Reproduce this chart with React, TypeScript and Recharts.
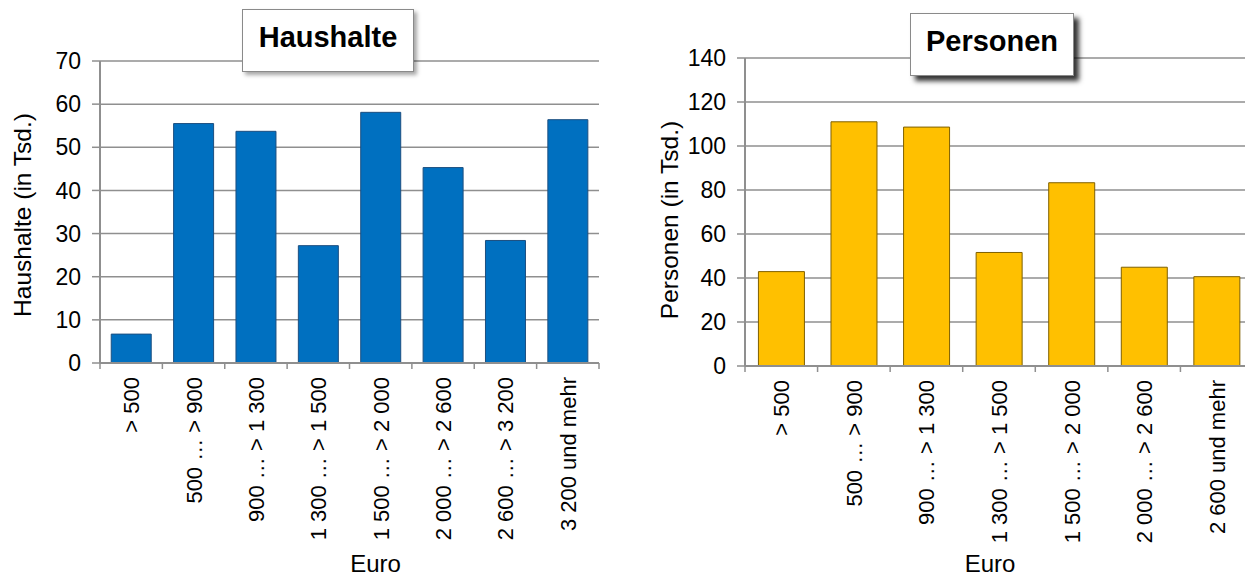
import React from 'react'
import { BarChart, Bar, XAxis, YAxis, CartesianGrid } from 'recharts'

const HH_CATS = ['> 500', '500 … > 900', '900 … > 1 300', '1 300 … > 1 500', '1 500 … > 2 000', '2 000 … > 2 600', '2 600 … > 3 200', '3 200 und mehr']
const HH_VALUES = [6.7, 55.5, 53.7, 27.2, 58.1, 45.3, 28.4, 56.4]
const HH_TICKS = [0, 10, 20, 30, 40, 50, 60, 70]

const P_CATS = ['> 500', '500 … > 900', '900 … > 1 300', '1 300 … > 1 500', '1 500 … > 2 000', '2 000 … > 2 600', '2 600 und mehr']
const P_VALUES = [42.9, 111.0, 108.6, 51.6, 83.3, 44.9, 40.6]
const P_TICKS = [0, 20, 40, 60, 80, 100, 120, 140]

const hhData = HH_CATS.map((c, i) => ({ cat: c, v: HH_VALUES[i] }))
const pData = P_CATS.map((c, i) => ({ cat: c, v: P_VALUES[i] }))

const FONT = '"Liberation Sans", Arial, sans-serif'
const GRID = '#8f8f8f'

// category label rotated, plus Excel-style tick marks at the band edges
function CatTick(props: any) {
  const { x, y, payload, index, band, count } = props
  return (
    <g>
      <line x1={x - band / 2} x2={x - band / 2} y1={y - 6} y2={y} stroke={GRID} strokeWidth={1.5} />
      {index === count - 1 && <line x1={x + band / 2} x2={x + band / 2} y1={y - 6} y2={y} stroke={GRID} strokeWidth={1.5} />}
      <text transform={`translate(${x + 8},${y + 8}) rotate(-90)`} textAnchor="end" fontSize={22} fill="#000" fontFamily={FONT}>
        {payload.value}
      </text>
    </g>
  )
}

function YTitle({ viewBox, value, cx, dy }: any) {
  const vb = viewBox || { x: 0, y: 0, width: 0, height: 0 }
  const x = vb.x + cx
  const y = vb.y + vb.height / 2 + dy
  return (
    <text x={x} y={y} transform={`rotate(-90 ${x} ${y})`} textAnchor="middle" dominantBaseline="central" fontSize={24.5} fill="#000" fontFamily={FONT}>
      {value}
    </text>
  )
}

function XTitle({ viewBox, dx }: any) {
  const vb = viewBox || { x: 0, y: 0, width: 0, height: 0 }
  return (
    <text x={vb.x + vb.width / 2 + dx} y={vb.y + vb.height - 4} textAnchor="middle" fontSize={24} fill="#000" fontFamily={FONT}>
      Euro
    </text>
  )
}

function TitleBox({ left, top, width, height, shadow, children }: any) {
  return (
    <div style={{
      position: 'absolute', left, top, width, height, boxSizing: 'border-box',
      background: '#fff', border: '1px solid #8a8a8a', boxShadow: shadow,
      display: 'flex', alignItems: 'center', justifyContent: 'center',
      fontFamily: FONT, fontWeight: 700, fontSize: 29, color: '#000', paddingBottom: 6,
    }}>
      {children}
    </div>
  )
}

const tickStyle = { fill: '#000', fontSize: 23, fontFamily: FONT }

export default function App() {
  return (
    <div style={{ position: 'absolute', left: 0, top: 0, width: 1245, height: 576, overflow: 'hidden', background: '#fff' }}>

      {/* Haushalte */}
      <div style={{ position: 'absolute', left: 0, top: 0 }}>
        <BarChart width={630} height={576} data={hhData} margin={{ top: 61, right: 31, bottom: 0, left: 0 }} barCategoryGap="18%">
          <CartesianGrid vertical={false} stroke={GRID} strokeWidth={1.5} />
          <XAxis dataKey="cat" height={213} interval={0} tickLine={false} tickSize={6} tickMargin={0}
            axisLine={{ stroke: GRID, strokeWidth: 2 }}
            tick={<CatTick band={499 / HH_CATS.length} count={HH_CATS.length} />}
            label={(p: any) => <XTitle {...p} dx={26} />} />
          <YAxis width={100} domain={[0, 70]} ticks={HH_TICKS} interval={0} tick={tickStyle}
            tickSize={8} tickMargin={11} tickLine={{ stroke: GRID, strokeWidth: 1.5 }}
            axisLine={{ stroke: GRID, strokeWidth: 2 }}
            label={(p: any) => <YTitle {...p} value="Haushalte (in Tsd.)" cx={22} dy={3} />} />
          <Bar dataKey="v" fill="#0070C0" stroke="#1c4f80" strokeWidth={1} isAnimationActive={false} />
        </BarChart>
      </div>

      {/* Personen */}
      <div style={{ position: 'absolute', left: 630, top: 0 }}>
        <BarChart width={630} height={576} data={pData} margin={{ top: 58, right: 7, bottom: 0, left: 0 }} barCategoryGap="18.5%">
          <CartesianGrid vertical={false} stroke={GRID} strokeWidth={1.5} />
          <XAxis dataKey="cat" height={210} interval={0} tickLine={false} tickSize={6} tickMargin={0}
            axisLine={{ stroke: GRID, strokeWidth: 2 }}
            tick={<CatTick band={508 / P_CATS.length} count={P_CATS.length} />}
            label={(p: any) => <XTitle {...p} dx={-9} />} />
          <YAxis width={115} domain={[0, 140]} ticks={P_TICKS} interval={0} tick={tickStyle}
            tickSize={8} tickMargin={11} tickLine={{ stroke: GRID, strokeWidth: 1.5 }}
            axisLine={{ stroke: GRID, strokeWidth: 2 }}
            label={(p: any) => <YTitle {...p} value="Personen (in Tsd.)" cx={39} dy={8} />} />
          <Bar dataKey="v" fill="#FFC000" stroke="#7f6000" strokeWidth={1} isAnimationActive={false} />
        </BarChart>
      </div>

      <TitleBox left={242} top={9} width={172} height={63} shadow="3px 3px 4px rgba(0,0,0,0.35)">Haushalte</TitleBox>
      <TitleBox left={910} top={13} width={164} height={63} shadow="5px 5px 5px rgba(0,0,0,0.8)">Personen</TitleBox>
    </div>
  )
}
